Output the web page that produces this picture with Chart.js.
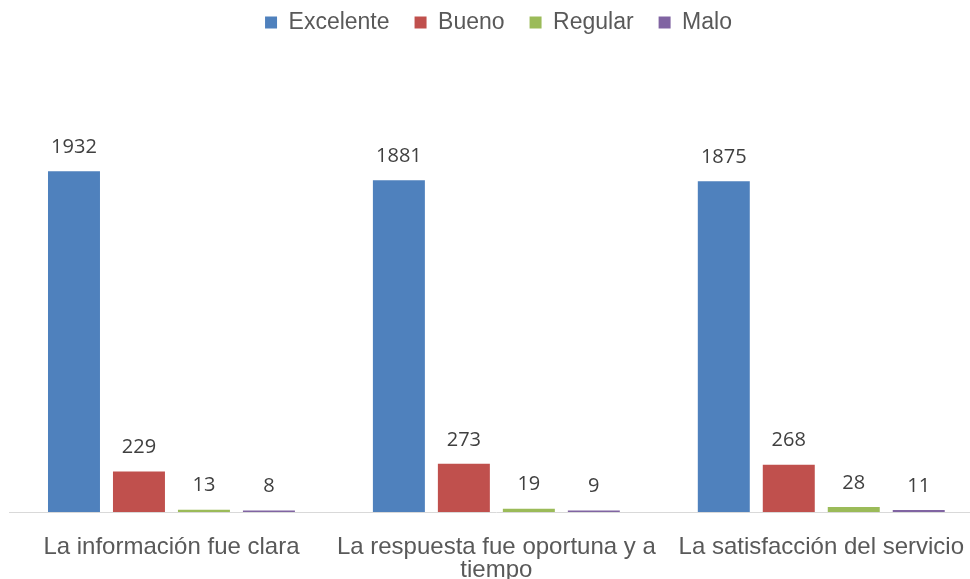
<!DOCTYPE html>
<html>
<head>
<meta charset="utf-8">
<script src="https://cdn.jsdelivr.net/npm/chart.js@4/dist/chart.umd.min.js"></script>
<style>
  html, body { margin: 0; padding: 0; background: #fff; overflow: hidden; }
  #wrap { width: 988px; height: 579px; position: relative; }
</style>
</head>
<body>
<div id="wrap"><canvas id="myChart"></canvas></div>
<script>
// datos del grafico
var categorias = ['La información fue clara', ['La respuesta fue oportuna y a', 'tiempo'], 'La satisfacción del servicio'];
var excelente = [1932, 1881, 1875];
var bueno = [229, 273, 268];
var regular = [13, 19, 28];
var malo = [8, 9, 11];

// etiquetas encima de cada barra
var etiquetas = {
    id: 'etiquetas',
    afterDatasetsDraw: function(chart) {
        var ctx = chart.ctx;
        ctx.save();
        ctx.font = '20px "Open Sans", sans-serif';
        ctx.fillStyle = '#404040';
        ctx.textAlign = 'center';
        ctx.textBaseline = 'middle';
        chart.data.datasets.forEach(function(ds, i) {
            var meta = chart.getDatasetMeta(i);
            meta.data.forEach(function(bar, j) {
                ctx.fillText(ds.data[j], bar.x, bar.y - 24);
            });
        });
        ctx.restore();
    }
};

// leyenda arriba con espacio fijo debajo
var ajusteLeyenda = {
    id: 'ajusteLeyenda',
    beforeLayout: function(chart) {
        var leg = chart.legend;
        if (leg && !leg._ajustado) {
            var fitOrig = leg.fit;
            leg.fit = function() {
                fitOrig.call(this);
                this.height = 71;
            };
            leg._ajustado = true;
        }
    },
    afterLayout: function(chart) {
        chart.legend.top = -14;
        chart.legend.bottom = 57;
    }
};

var ctx = document.getElementById('myChart').getContext('2d');
var myChart = new Chart(ctx, {
    type: 'bar',
    data: {
        labels: categorias,
        datasets: [
            { label: 'Excelente', data: excelente, backgroundColor: '#4f81bd' },
            { label: 'Bueno', data: bueno, backgroundColor: '#c0504d' },
            { label: 'Regular', data: regular, backgroundColor: '#9bbb59' },
            { label: 'Malo', data: malo, backgroundColor: '#8064a2' }
        ]
    },
    options: {
        responsive: true,
        maintainAspectRatio: false,
        animation: false,
        layout: { padding: { left: 9, right: 0, top: 0, bottom: 0 } },
        datasets: {
            bar: { categoryPercentage: 0.8, barPercentage: 0.8 }
        },
        plugins: {
            legend: {
                position: 'top',
                labels: {
                    font: { family: 'Liberation Sans, Arial, sans-serif', size: 23 },
                    color: '#595959',
                    boxWidth: 12,
                    boxHeight: 12,
                    padding: 25,
                    generateLabels: function(chart) {
                        return chart.data.datasets.map(function(ds, i) {
                            return { text: ds.label, fillStyle: ds.backgroundColor, strokeStyle: ds.backgroundColor, lineWidth: 0, datasetIndex: i, fontColor: '#595959' };
                        });
                    }
                }
            },
            tooltip: { enabled: false }
        },
        scales: {
            x: {
                grid: { display: false, drawTicks: false },
                border: { color: '#d9d9d9', width: 1 },
                afterFit: function(scale) { scale.height = 67; },
                ticks: {
                    font: { family: 'Liberation Sans, Arial, sans-serif', size: 24, lineHeight: 0.95 },
                    color: '#595959',
                    padding: 24,
                    maxRotation: 0,
                    autoSkip: false
                }
            },
            y: {
                display: false,
                min: 0,
                max: 2500
            }
        }
    },
    plugins: [etiquetas, ajusteLeyenda]
});
</script>
</body>
</html>
